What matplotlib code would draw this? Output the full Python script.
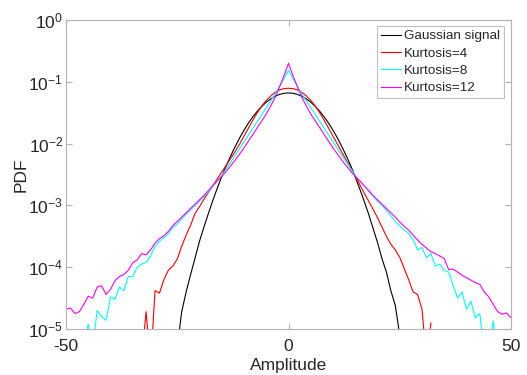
import numpy as np
import matplotlib
matplotlib.use("Agg")
import matplotlib.pyplot as plt
from matplotlib.ticker import FixedLocator, NullLocator

plt.rcParams['font.family'] = ['Liberation Sans', 'DejaVu Sans']
plt.rcParams['mathtext.fontset'] = 'custom'
plt.rcParams['mathtext.rm'] = 'Liberation Sans'
plt.rcParams['mathtext.it'] = 'Liberation Sans:italic'
plt.rcParams['mathtext.bf'] = 'Liberation Sans:bold'
plt.rcParams['axes.unicode_minus'] = False

# amplitude grid
amplitude = list(range(-50, 51))
nan = float('nan')

# log10(PDF); values below -5 fall below the axis
gauss_log = [nan]*24 + [-5.4, -5.3, -4.72, -4.40, -4.12, -3.85, -3.58, -3.35, -3.13,
    -2.92, -2.72, -2.535, -2.36, -2.20, -2.05, -1.91, -1.783, -1.668, -1.566, -1.475,
    -1.397, -1.33, -1.276, -1.234, -1.204, -1.186, -1.18,
    -1.186, -1.204, -1.234, -1.276, -1.33, -1.397, -1.475, -1.566, -1.668, -1.783,
    -1.91, -2.05, -2.20, -2.36, -2.54, -2.73, -2.93, -3.14, -3.37, -3.60, -3.86, -4.08,
    -4.38, -4.62, -5.1, -5.5] + [nan]*24

kurt4_log = [nan]*17 + [-5.5, -4.72, -5.6, -4.38, -4.42, -4.20, -4.05, -3.98, -3.87,
    -3.66, -3.48, -3.32, -3.13, -3.02, -2.90, -2.79, -2.68, -2.57, -2.46, -2.35, -2.24,
    -2.13, -2.01, -1.88, -1.75, -1.62, -1.50, -1.39, -1.30, -1.23, -1.17, -1.13, -1.11,
    -1.105,
    -1.11, -1.13, -1.17, -1.23, -1.30, -1.39, -1.50, -1.62, -1.75, -1.88, -2.01, -2.14,
    -2.27, -2.40, -2.52, -2.66, -2.80, -2.93, -3.06, -3.20, -3.35, -3.50, -3.63, -3.72,
    -3.84, -4.02, -4.20, -4.40, -4.44, -4.68, -5.5, -4.90] + [nan]*18

kurt8_log = [nan]*4 + [-5.3, -4.92, -5.3, -4.70, -4.80, -4.86, -4.48, -4.52, -4.32,
    -4.38, -4.15, -4.15, -4.00, -3.95, -3.92, -3.82, -3.66, -3.58, -3.52, -3.46, -3.36,
    -3.30, -3.22, -3.14, -3.07, -3.00, -2.93, -2.86, -2.78, -2.69, -2.60, -2.52, -2.41,
    -2.30, -2.19, -2.08, -1.97, -1.86, -1.75, -1.64, -1.53, -1.42, -1.31, -1.20, -1.07,
    -0.95, -0.81,
    -0.95, -1.07, -1.20, -1.31, -1.42, -1.53, -1.64, -1.75, -1.86, -1.97, -2.08, -2.19,
    -2.30, -2.41, -2.52, -2.60, -2.68, -2.77, -2.85, -2.93, -3.00, -3.08, -3.17, -3.26,
    -3.33, -3.40, -3.45, -3.55, -3.72, -3.68, -3.85, -3.78, -3.98, -3.95, -4.05, -4.08,
    -4.30, -4.50, -4.40, -4.68, -4.55, -4.82, -4.75, -5.4, -5.4, -4.87, -5.5] + [nan]*3

kurt12_log = [-4.68, -4.66, -4.75, -4.72, -4.60, -4.47, -4.50, -4.32, -4.30, -4.44,
    -4.36, -4.22, -4.15, -4.12, -4.05, -3.93, -3.88, -3.78, -3.80, -3.72, -3.61, -3.54,
    -3.49, -3.42, -3.33, -3.26, -3.19, -3.12, -3.05, -2.98, -2.91, -2.84, -2.76, -2.68,
    -2.60, -2.53, -2.45, -2.36, -2.27, -2.17, -2.07, -1.96, -1.85, -1.74, -1.63, -1.52,
    -1.39, -1.25, -1.08, -0.90, -0.70,
    -0.90, -1.08, -1.25, -1.39, -1.52, -1.63, -1.74, -1.85, -1.96, -2.07, -2.17, -2.27,
    -2.36, -2.45, -2.53, -2.60, -2.68, -2.76, -2.84, -2.91, -2.98, -3.05, -3.12, -3.19,
    -3.27, -3.34, -3.40, -3.48, -3.56, -3.63, -3.69, -3.75, -3.78, -3.82, -3.86, -4.04,
    -4.03, -4.08, -4.13, -4.17, -4.21, -4.25, -4.28, -4.40, -4.48, -4.60, -4.72, -4.76,
    -4.74, -4.82]

series_names = ['Gaussian signal', 'Kurtosis=4', 'Kurtosis=8', 'Kurtosis=12']
series_colors = ['#000000', '#ff0000', '#00ffff', '#ff00ff']
series_logs = [gauss_log, kurt4_log, kurt8_log, kurt12_log]

x_ticks = [-50, 0, 50]
y_ticks = [1e-5, 1e-4, 1e-3, 1e-2, 1e-1, 1e0]

fig = plt.figure(figsize=(5.27, 3.75), dpi=100)
ax = fig.add_axes([66/527, 46/375, 445/527, 309/375])

for name, col, lg in zip(series_names, series_colors, series_logs):
    y = 10.0 ** np.array(lg, dtype=float)
    ax.plot(amplitude, y, color=col, lw=0.8, label=name)

ax.set_yscale('log')
ax.set_xlim(-50, 50)
ax.set_ylim(1e-5, 1e0)
ax.xaxis.set_major_locator(FixedLocator(x_ticks))
ax.yaxis.set_major_locator(FixedLocator(y_ticks))
ax.yaxis.set_minor_locator(NullLocator())
ax.xaxis.set_minor_locator(NullLocator())

axcol = '#b3b3b3'
txtcol = '#262626'
for sp in ax.spines.values():
    sp.set_color(axcol)
    sp.set_linewidth(0.8)
ax.tick_params(axis='both', which='both', direction='in', length=4, width=0.8,
               color=axcol, labelcolor=txtcol, labelsize=12.5,
               top=True, right=True)
ax.tick_params(axis='x', pad=7)
ax.tick_params(axis='y', pad=2)

ax.set_xlabel('Amplitude', fontsize=12.5, color=txtcol, labelpad=3)
ax.set_ylabel('PDF', fontsize=12.5, color=txtcol, labelpad=0)

leg = ax.legend(loc='upper right', bbox_to_anchor=(0.984, 0.9806), borderaxespad=0,
                fontsize=9.7, frameon=True, fancybox=False, handlelength=1.5,
                handletextpad=0.2, labelspacing=0.36, borderpad=0.3)
leg.get_frame().set_edgecolor(axcol)
leg.get_frame().set_linewidth(0.8)
for t in leg.get_texts():
    t.set_color(txtcol)

fig.savefig('out.png', dpi=100)
